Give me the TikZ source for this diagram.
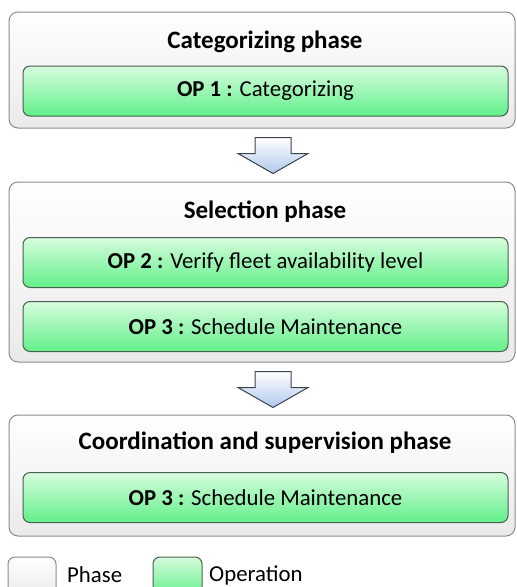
\documentclass[tikz,border=0pt]{standalone}
\usepackage{fontspec}
\setmainfont{Carlito}
\usetikzlibrary{calc}
\definecolor{phaseborder}{RGB}{140,140,140}
\definecolor{phaselow}{RGB}{234,234,234}
\definecolor{opborder}{RGB}{75,95,80}
\definecolor{optop}{RGB}{214,252,222}
\definecolor{oplow}{RGB}{98,240,138}
\definecolor{arrowborder}{RGB}{60,68,80}
\definecolor{arrowlow}{RGB}{176,200,236}

\tikzset{
  phasebox/.style={draw=phaseborder, line width=1pt, rounded corners=9pt, top color=white, bottom color=phaselow, minimum width=506pt, inner sep=0pt},
  opbox/.style={draw=opborder, line width=1pt, rounded corners=7pt, top color=optop, bottom color=oplow, minimum width=485pt, minimum height=50pt, inner sep=0pt, font=\fontsize{22.8}{27}\selectfont},
  phasetitle/.style={inner sep=0pt, font=\fontsize{25}{30}\selectfont\bfseries},
  blockarrow/.style={draw=arrowborder, line width=1pt, top color=white, bottom color=arrowlow, line join=miter},
  legendtext/.style={anchor=west, inner sep=0pt, font=\fontsize{22.8}{27}\selectfont}
}

\begin{document}
\begin{tikzpicture}[x=1pt,y=-1pt]
    \clip (0,0) rectangle (517,587);

    % phases
    \node[phasebox, minimum height=116pt] (cat) at (262,70) {};
    \node[phasetitle] (cattitle) at (265,42) {Categorizing phase};
    \node[opbox] (op1) at (265.5,91) {\textbf{OP 1 :} Categorizing};

    \node[phasebox, minimum height=180pt] (sel) at (262,272) {};
    \node[phasetitle] (seltitle) at (265,212) {Selection phase};
    \node[opbox] (op2) at (265.5,262.5) {\textbf{OP 2 :} Verify fleet availability level};
    \node[opbox] (op3) at (265.5,326.5) {\textbf{OP 3 :} Schedule Maintenance};

    \node[phasebox, minimum height=121pt] (coo) at (262,475.5) {};
    \node[phasetitle] (cootitle) at (265,443) {Coordination and supervision phase};
    \node[opbox] (op3b) at (265.5,497.5) {\textbf{OP 3 :} Schedule Maintenance};

    % block arrows between the phases
    \coordinate (a1) at ($(cat.south)+(11,9)$);
    \coordinate (a2) at ($(sel.south)+(11,9)$);
    \foreach \a in {a1,a2}
        \draw[blockarrow] (\a) ++(-18,0) -- ++(36,0) -- ++(0,16) -- ++(17,0) -- ++(-35,20) -- ++(-35,-20) -- ++(17,0) -- cycle;

    % legend
    \node[phasebox, minimum width=48pt, minimum height=40pt, rounded corners=7pt] (legphase) at (32,577) {};
    \node[legendtext] (legphasetext) at (67,575) {Phase};
    \node[opbox, minimum width=49pt, minimum height=40pt] (legop) at (177.5,577) {};
    \node[legendtext] (legoptext) at (209,575) {Operation};

\end{tikzpicture}
\end{document}
